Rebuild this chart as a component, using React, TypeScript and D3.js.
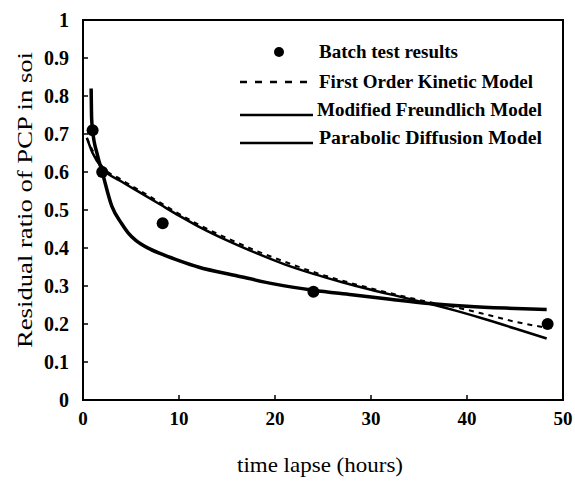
import React from "react";
import * as d3 from "d3";

// Batch test results
const batchTime = [1, 2, 8.3, 24, 48.4];
const batchRatio = [0.71, 0.6, 0.465, 0.285, 0.2];

// First Order Kinetic Model (dashed)
const foTime = [0.4, 1, 2, 4, 6, 8, 10, 12, 15, 18, 21, 24, 27, 30, 33, 36, 39, 42, 45, 48.3];
const foRatio = [0.69, 0.657, 0.615, 0.58, 0.55, 0.52, 0.49, 0.462, 0.426, 0.393, 0.364, 0.337, 0.314, 0.294, 0.275, 0.258, 0.243, 0.225, 0.206, 0.19];

// Modified Freundlich Model (thick solid)
const mfTime = [0.85, 0.9, 1.0, 1.5, 2, 3, 4, 4.7, 5.5, 7, 8.6, 10, 12, 16, 20, 24, 28, 32, 36, 40, 44, 48.3];
const mfRatio = [0.82, 0.74, 0.71, 0.645, 0.6, 0.51, 0.465, 0.44, 0.42, 0.397, 0.38, 0.367, 0.35, 0.327, 0.305, 0.289, 0.277, 0.265, 0.254, 0.247, 0.242, 0.238];

// Parabolic Diffusion Model (thin solid)
const pdTime = [0.4, 1, 2, 4, 6, 8, 10, 12, 15, 18, 21, 24, 27, 30, 33, 36, 39, 42, 45, 48.3];
const pdRatio = [0.69, 0.65, 0.61, 0.575, 0.545, 0.515, 0.485, 0.457, 0.42, 0.387, 0.357, 0.332, 0.31, 0.29, 0.272, 0.254, 0.234, 0.212, 0.188, 0.162];

const xTicks = [0, 10, 20, 30, 40, 50];
const yTicks = [0, 0.1, 0.2, 0.3, 0.4, 0.5, 0.6, 0.7, 0.8, 0.9, 1];
const yTickLabels = ["0", "0.1", "0.2", "0.3", "0.4", "0.5", "0.6", "0.7", "0.8", "0.9", "1"];

const legendLabels = [
  "Batch test results",
  "First Order Kinetic Model",
  "Modified Freundlich Model",
  "Parabolic Diffusion Model",
];

const FONT = "'Liberation Serif', 'DejaVu Serif', serif";

export default function App() {
  const x = d3.scaleLinear().domain([0, 50]).range([83, 563]);
  const y = d3.scaleLinear().domain([0, 1]).range([400, 20]);

  const line = d3
    .line<[number, number]>()
    .x((d) => x(d[0]))
    .y((d) => y(d[1]))
    .curve(d3.curveMonotoneX);

  const zip = (a: number[], b: number[]) => a.map((v, i) => [v, b[i]] as [number, number]);

  const legX0 = 240;
  const legX1 = 313;
  const legTextX = [319, 319, 317, 319];
  const legWidth = [139, 214, 225, 223];
  const legY = [52, 82, 110, 138];

  return (
    <svg
      width={575}
      height={487}
      style={{ position: "absolute", left: 0, top: 0, background: "#fff" }}
    >
      <rect x={0} y={0} width={575} height={487} fill="#fff" />
      {/* frame */}
      <rect x={83} y={20} width={480} height={380} fill="none" stroke="#000" strokeWidth={2} />
      {/* ticks */}
      {yTicks.map((t) => (
        <line key={"yt" + t} x1={83} x2={88} y1={y(t)} y2={y(t)} stroke="#000" strokeWidth={1.5} />
      ))}
      {xTicks.map((t) => (
        <line key={"xt" + t} x1={x(t)} x2={x(t)} y1={400} y2={395} stroke="#000" strokeWidth={1.5} />
      ))}
      {/* tick labels */}
      {yTicks.map((t, i) => (
        <text
          key={"yl" + t}
          x={69}
          y={y(t)}
          dy="0.35em"
          textAnchor="end"
          fontFamily={FONT}
          fontWeight="bold"
          fontSize={20}
        >
          {yTickLabels[i]}
        </text>
      ))}
      {xTicks.map((t) => (
        <text
          key={"xl" + t}
          x={x(t)}
          y={425}
          textAnchor="middle"
          fontFamily={FONT}
          fontWeight="bold"
          fontSize={19}
        >
          {t}
        </text>
      ))}
      {/* axis titles */}
      <text
        x={320}
        y={472}
        textAnchor="middle"
        fontFamily={FONT}
        fontSize={21}
        textLength={166}
        lengthAdjust="spacingAndGlyphs"
      >
        time lapse (hours)
      </text>
      <text
        transform="translate(32,200) rotate(-90)"
        textAnchor="middle"
        fontFamily={FONT}
        fontSize={22}
        textLength={296}
        lengthAdjust="spacingAndGlyphs"
      >
        Residual ratio of PCP in soi
      </text>

      {/* curves */}
      <path d={line(zip(foTime, foRatio)) || ""} fill="none" stroke="#000" strokeWidth={2} strokeDasharray="5,5" />
      <path d={line(zip(pdTime, pdRatio)) || ""} fill="none" stroke="#000" strokeWidth={2.5} />
      <path d={line(zip(mfTime, mfRatio)) || ""} fill="none" stroke="#000" strokeWidth={3.5} />

      {/* batch points */}
      {batchTime.map((t, i) => (
        <circle key={"p" + i} cx={x(t)} cy={y(batchRatio[i])} r={6} fill="#000" />
      ))}

      {/* legend */}
      <circle cx={279} cy={legY[0]} r={5} fill="#000" />
      <line x1={legX0} x2={legX1} y1={legY[1]} y2={legY[1]} stroke="#000" strokeWidth={2.5} strokeDasharray="7,8" />
      <line x1={legX0} x2={legX1} y1={legY[2] + 5} y2={legY[2] + 5} stroke="#000" strokeWidth={2.5} />
      <line x1={legX0} x2={legX1} y1={legY[3] + 5} y2={legY[3] + 5} stroke="#000" strokeWidth={2.5} />
      {legendLabels.map((l, i) => (
        <text
          key={l}
          x={legTextX[i]}
          y={legY[i]}
          dy="0.35em"
          fontFamily={FONT}
          fontWeight="bold"
          fontSize={18}
          textLength={legWidth[i]}
          lengthAdjust="spacingAndGlyphs"
        >
          {l}
        </text>
      ))}
    </svg>
  );
}
